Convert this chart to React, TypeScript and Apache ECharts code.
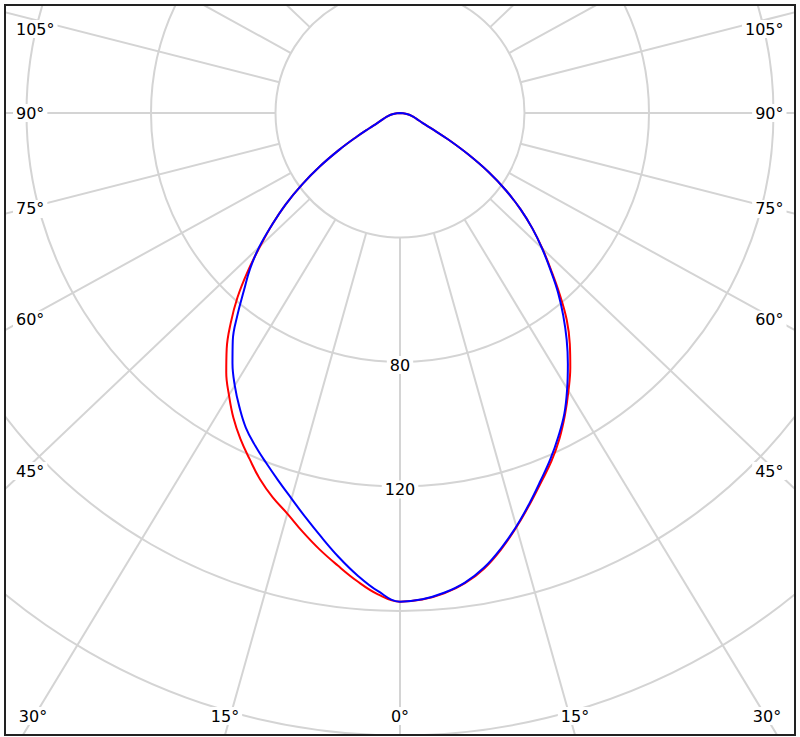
import React, { useEffect, useRef } from "react";
import * as echarts from "echarts";

// Angles from nadir (degrees); negative = left half, positive = right half
const ANGLES = [
  -90, -85, -80, -75, -70, -65, -62.5, -60, -57.5, -55, -52.5, -50, -47.5, -45, -42.5, -40,
  -37.5, -35, -32.5, -30, -27.5, -25, -22.5, -20, -17.5, -15, -12.5, -10, -7.5, -5, -2.5,
  0, 2.5, 5, 7.5, 10, 12.5, 15, 17.5, 20, 22.5, 25, 27.5, 30, 32.5, 35, 37.5, 40, 42.5,
  45, 47.5, 50, 52.5, 55, 57.5, 60, 62.5, 65, 70, 75, 80, 85, 90,
];

// Luminous intensity
const RED = [
  0, 1, 2.5, 4, 5.5, 8, 11, 16, 23, 31, 39, 47, 54.5, 62, 70.5, 79,
  86.7, 94, 100.4, 106, 111.6, 116.6, 121.2, 126, 130.1, 133.7, 138.1, 142.5, 146.7, 151, 154.8,
  157, 156.5, 155, 152.5, 148.8, 143.8, 138.2, 132.5, 127, 122, 116.5, 110.5, 104.4, 98.4, 92.1, 85.4, 77.6, 70,
  63.2, 56.5, 49.6, 42.2, 34.2, 25.6, 17.7, 11.5, 8, 5.5, 4, 2.5, 1, 0,
];
const BLUE = [
  0, 1, 2.5, 4, 5.5, 8, 11, 16, 23, 31, 39, 47, 54.5, 62.5, 69.5, 75.8,
  83.2, 90.7, 96.8, 102.4, 107.6, 112.6, 116.6, 120.4, 124.4, 128.7, 133.5, 138.6, 144, 149.2, 153.8,
  157, 156.4, 154.8, 152.3, 148.5, 143.5, 138, 132.2, 126.5, 121.2, 115.7, 110.1, 103.6, 97, 90.4, 83.6, 76.8, 69.6,
  63, 56.5, 49.6, 42.2, 34.2, 25.6, 17.7, 11.5, 8, 5.5, 4, 2.5, 1, 0,
];

// Grid
const RADIUS_MIN = 0;
const RADIUS_MAX = 240;
const RADIUS_STEP = 40;
const RING_LABELS = [80, 120];
const SPOKE_INNER = 40;
const SPOKE_ANGLES = [
  -165, -150, -135, -120, -105, -90, -75, -60, -45, -30, -15, 0,
  15, 30, 45, 60, 75, 90, 105, 120, 135, 150, 165, 180,
];
const SIDE_LABELS = [45, 60, 75, 90, 105];
const BOTTOM_LABELS = [0, 15, 30];

// Layout (chart-local pixels)
const CX = 394;
const CY = 107;
const R_OUTER = 747;
const STRETCH = 1.05;
const FONT_FAMILY = "Tahoma, 'DejaVu Sans', Verdana, sans-serif";
const FONT_SIZE = 16;
const GRID_COLOR = "#d4d4d4";

function warp(a: number): number {
  const r = (Math.abs(a) * Math.PI) / 180;
  const w = (Math.atan2(STRETCH * Math.sin(r), Math.cos(r)) * 180) / Math.PI;
  return a < 0 ? -w : w;
}

function labelText(x: number, y: number, text: string, align: string) {
  return {
    type: "text",
    z: 100,
    x,
    y,
    style: {
      text,
      fontSize: FONT_SIZE,
      fontFamily: FONT_FAMILY,
      fill: "#000",
      align,
      verticalAlign: "middle",
      textAlign: align,
      textVerticalAlign: "middle",
      backgroundColor: "#fff",
      padding: [1, 3],
    },
  };
}

export default function App() {
  const ref = useRef<HTMLDivElement>(null);

  useEffect(() => {
    if (!ref.current) return;
    const chart = echarts.init(ref.current, null, { renderer: "svg" });

    const graphics: any[] = [];
    SIDE_LABELS.forEach((a) => {
      const obs = (warp(a) * Math.PI) / 180;
      const y = Math.max(CY + 376 / Math.tan(obs), 23);
      graphics.push(labelText(7, y, a + "°", "left"));
      graphics.push(labelText(780.5, y, a + "°", "right"));
    });
    BOTTOM_LABELS.forEach((a) => {
      const obs = (warp(a) * Math.PI) / 180;
      const dx = 622 * Math.tan(obs);
      const y = 710;
      if (a === 0) {
        graphics.push(labelText(CX, y, a + "°", "center"));
      } else {
        graphics.push(labelText(Math.max(CX - dx, 27), y, a + "°", "center"));
        graphics.push(labelText(Math.min(CX + dx, 761), y, a + "°", "center"));
      }
    });

    const option: any = {
      animation: false,
      polar: { center: [CX, CY], radius: [0, R_OUTER] },
      angleAxis: {
        type: "value",
        min: -180,
        max: 180,
        startAngle: 90,
        clockwise: false,
        axisLine: { show: false },
        axisTick: { show: false },
        axisLabel: { show: false },
        splitLine: { show: false },
      },
      radiusAxis: {
        type: "value",
        min: RADIUS_MIN,
        max: RADIUS_MAX,
        interval: RADIUS_STEP,
        axisLine: { show: false },
        axisTick: { show: false },
        axisLabel: { show: false },
        splitLine: { show: true, lineStyle: { color: GRID_COLOR, width: 2 } },
      },
      graphic: graphics,
      series: [
        {
          type: "custom",
          coordinateSystem: "polar",
          silent: true,
          z: 1,
          data: SPOKE_ANGLES.map((a) => [RADIUS_MAX, warp(a)]),
          renderItem: (_p: any, api: any) => {
            const ang = api.value(1);
            const p0 = api.coord([SPOKE_INNER, ang]);
            const p1 = api.coord([RADIUS_MAX, ang]);
            return {
              type: "line",
              shape: { x1: p0[0], y1: p0[1], x2: p1[0], y2: p1[1] },
              style: { stroke: GRID_COLOR, lineWidth: 2 },
            };
          },
        },
        {
          type: "line",
          coordinateSystem: "polar",
          z: 3,
          silent: true,
          showSymbol: false,
          smooth: 0.4,
          lineStyle: { color: "#ff0000", width: 2 },
          data: ANGLES.map((a, i) => [RED[i], warp(a)]),
        },
        {
          type: "line",
          coordinateSystem: "polar",
          z: 4,
          silent: true,
          showSymbol: false,
          smooth: 0.4,
          lineStyle: { color: "#0000ff", width: 2 },
          data: ANGLES.map((a, i) => [BLUE[i], warp(a)]),
        },
        {
          type: "scatter",
          coordinateSystem: "polar",
          z: 10,
          silent: true,
          symbolSize: 0,
          itemStyle: { opacity: 1 },
          data: RING_LABELS.map((v) => [v, 0]),
          label: {
            show: true,
            position: "inside",
            offset: [0, 3],
            formatter: (p: any) => String(p.value[0]),
            fontSize: FONT_SIZE,
            fontFamily: FONT_FAMILY,
            color: "#000",
            opacity: 1,
            textBorderWidth: 0,
            backgroundColor: "#fff",
            padding: [1, 3],
          },
        },
      ],
    };

    chart.setOption(option);
    return () => chart.dispose();
  }, []);

  return (
    <div
      style={{
        position: "fixed",
        left: 4,
        top: 4,
        width: 792,
        height: 732,
        boxSizing: "border-box",
        border: "2px solid #222",
        background: "#fff",
        overflow: "hidden",
      }}
    >
      <div ref={ref} style={{ width: 788, height: 728 }} />
    </div>
  );
}
